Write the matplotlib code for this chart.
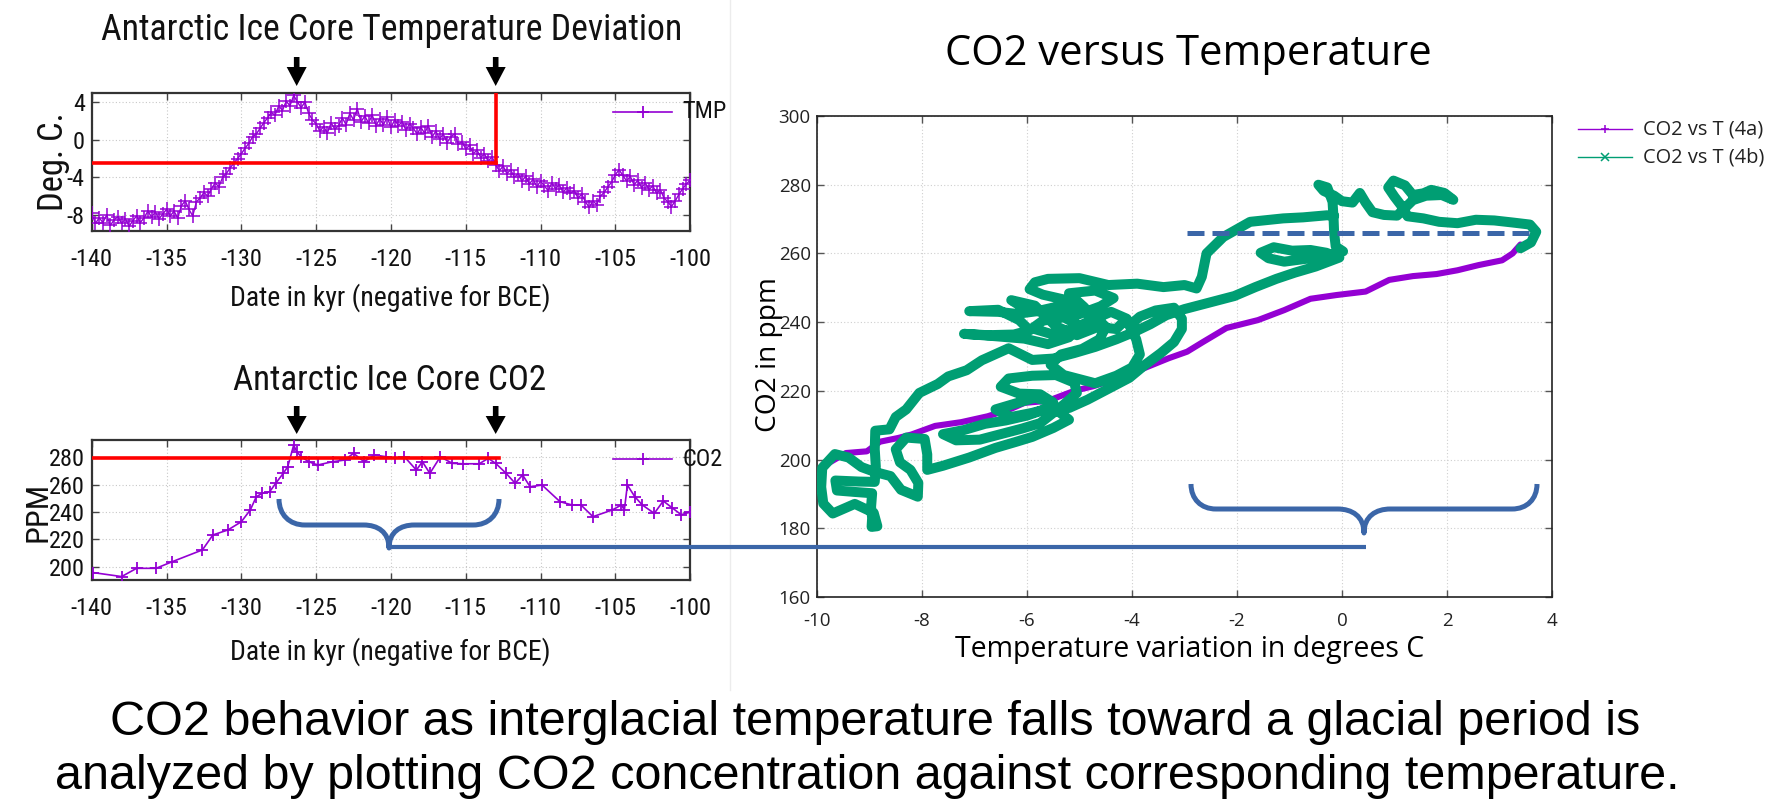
import numpy as np
import matplotlib
matplotlib.use("Agg")
import matplotlib.pyplot as plt
from matplotlib import font_manager as fm
from matplotlib.path import Path
from matplotlib.patches import PathPatch, Polygon

plt.rcParams['axes.unicode_minus'] = False

W, H = 1777, 806

# ---------------------------------------------------------------- data
# Antarctic ice-core temperature deviation (deg C), sampled every 0.25 kyr from -140 to -100
tmp_values = [
    -7.8, -8.9, -8.3, -8.8, -8.0, -9.1, -8.5, -8.2, -8.9, -8.4,
    -9.2, -8.6, -8.1, -8.8, -8.3, -7.6, -8.2, -7.7, -8.4, -7.9,
    -7.4, -8.1, -7.6, -8.3, -7.0, -6.5, -7.4, -8.1, -6.6, -6.2,
    -5.6, -6.0, -5.2, -4.6, -5.0, -4.0, -3.6, -3.0, -2.5, -2.0,
    -1.5, -0.9, -0.4, 0.3, 0.6, 1.2, 1.8, 2.3, 2.9, 2.6,
    3.6, 3.1, 4.1, 3.6, 4.7, 4.0, 3.4, 4.0, 2.8, 2.1,
    1.7, 0.9, 1.4, 0.7, 1.8, 1.1, 1.5, 2.3, 1.6, 2.8,
    2.1, 3.3, 1.9, 2.5, 1.8, 2.6, 1.5, 2.2, 1.6, 2.4,
    1.3, 2.1, 1.5, 1.9, 1.0, 1.7, 1.2, 0.6, 1.3, 0.7,
    1.5, 0.3, 0.9, 0.1, 0.6, -0.3, 0.3, 0.6, -0.5, -0.2,
    -1.0, -0.6, -1.5, -1.1, -1.9, -1.5, -2.3, -1.8, -2.7, -3.3,
    -2.8, -3.6, -3.2, -4.0, -3.6, -4.4, -3.9, -4.7, -4.2, -5.0,
    -4.4, -4.9, -5.4, -4.6, -5.2, -4.8, -5.6, -5.1, -5.7, -5.4,
    -6.2, -5.8, -6.6, -7.2, -6.5, -6.9, -6.0, -5.6, -5.0, -4.5,
    -3.7, -3.2, -3.8, -4.4, -3.9, -4.8, -4.3, -5.1, -4.6, -5.3,
    -4.9, -5.7, -5.3, -6.2, -6.6, -7.1, -6.5, -5.8, -5.2, -4.7,
    -4.3]
tmp_years = np.arange(len(tmp_values)) * 0.25 - 140.0

# Antarctic ice-core CO2 (ppm)
co2_years = [-139.9, -138.0, -137.0, -135.7, -134.6, -132.6, -131.9, -130.9, -130.0, -129.4,
             -129.0, -128.6, -128.1, -127.7, -127.2, -126.9, -126.5, -126.3, -126.0, -125.5,
             -124.9, -123.9, -123.1, -122.5, -121.8, -121.1, -120.3, -119.7, -119.1, -118.3,
             -117.9, -117.4, -116.7, -115.9, -115.2, -114.1, -113.5, -113.0, -112.3, -111.7,
             -111.2, -110.7, -109.9, -108.7, -107.9, -107.3, -106.5, -105.2, -104.6, -104.4,
             -104.2, -103.7, -103.2, -102.4, -101.8, -101.2, -100.6, -100.0]
co2_ppm = [195.9, 193.0, 199.0, 199.0, 203.9, 212.4, 223.3, 226.9, 232.9, 241.5,
           251.1, 253.6, 254.8, 260.9, 268.1, 272.9, 288.7, 283.9, 280.2, 276.6,
           274.2, 276.6, 277.8, 282.7, 276.6, 281.5, 280.2, 279.0, 280.2, 270.5,
           276.6, 268.1, 280.2, 275.4, 275.1, 275.1, 279.0, 275.4, 268.1, 260.9,
           266.9, 258.4, 259.6, 247.5, 245.1, 245.1, 236.6, 241.5, 245.1, 241.5,
           259.6, 251.1, 245.1, 239.0, 248.0, 243.0, 238.0, 240.0]

# CO2 vs T (4a)
t_4a = [-9.80, -9.45, -9.05, -8.80, -8.45, -8.20, -7.75, -7.25, -6.75, -6.30, -6.05,
        -5.60, -5.10, -4.75, -4.30, -3.80, -3.30, -2.95, -2.65, -2.20, -1.60, -1.10,
        -0.60, -0.10, 0.45, 0.90, 1.35, 1.80, 2.20, 2.60, 3.05, 3.25, 3.40]
co2_4a = [198.8, 201.9, 202.4, 205.2, 206.3, 207.3, 209.8, 210.9, 212.6, 214.8, 216.5,
          217.1, 220.0, 221.3, 223.5, 226.4, 229.5, 231.4, 234.2, 238.3, 240.6, 243.5,
          246.8, 247.9, 248.9, 252.3, 253.4, 254.0, 255.1, 256.6, 258.0, 260.0, 262.6]

# CO2 vs T (4b)
t_4b = [3.40, 3.60, 3.70, 3.58, 3.25, 2.90, 2.55, 2.20, 1.85, 1.55, 1.25, 1.15, 1.00, 0.88,
        0.98, 1.20, 1.35, 1.55, 1.70, 1.95, 2.12, 1.90, 1.60, 1.35, 1.15, 1.05, 0.80, 0.58,
        0.45, 0.34, 0.20, 0.00, -0.15, -0.35, -0.45, -0.28, -0.18, -0.16, -0.15, -0.12,
        0.02, -0.30, -0.70, -1.10, -1.40, -1.55, -1.30, -0.95, -0.60, -0.30, -0.05,
        -0.50, -0.90, -1.25, -1.65, -2.05, -2.50, -3.00, -3.35, -3.65, -3.95, -4.30, -4.70,
        -5.10, -5.50, -5.90, -6.35,
        -6.86, -7.15, -7.50, -7.70, -8.05, -8.30, -8.50, -8.62, -8.89, -8.90, -8.88, -8.90,
        -9.20, -9.65, -9.62, -9.30, -8.95, -8.97, -8.95, -8.96, -8.85, -8.92, -9.28, -9.70,
        -9.88, -9.92, -9.90, -9.66, -9.40, -9.15, -8.90, -8.60, -8.40, -8.08, -8.07, -8.22,
        -8.42, -8.50, -8.30, -7.95,
        -7.90, -7.90, -7.60, -7.10, -6.60, -6.20, -5.90, -5.50, -5.20, -5.40, -5.70, -6.00,
        -6.40, -6.80, -7.20, -7.60, -7.35, -6.90, -6.50, -6.10, -5.75, -5.30, -5.05, -5.10,
        -5.45, -5.90, -6.35, -6.50, -6.15, -5.75, -5.50,
        -5.85, -6.25, -6.60, -6.30, -5.90, -5.55,
        -5.20, -4.85, -4.45, -4.05, -3.75, -3.45, -3.20, -3.05, -3.05, -3.20, -3.55, -3.85,
        -4.05, -3.92, -3.85, -4.00, -4.30, -4.70,
        -5.30, -5.55, -5.35, -4.95, -4.62, -4.50, -4.70, -5.00, -5.40, -5.80, -6.20, -6.55,
        -7.10, -6.55, -6.15, -5.95, -6.25, -6.75, -7.20, -6.60, -6.05, -5.60, -5.20, -5.00,
        -5.30, -5.70, -5.90, -5.55, -5.15, -4.80, -4.40, -4.10, -4.30, -4.65,
        -5.05, -5.45, -5.85, -6.30, -6.05, -5.60, -5.10, -4.60, -4.35, -4.70, -5.20,
        -4.90, -5.30, -5.70, -5.95, -5.85, -5.60,
        -5.00, -4.45, -3.90, -3.40, -3.00, -2.77, -2.67, -2.58, -2.26, -1.75, -1.12, -0.74,
        -0.29, -0.15]
co2_4b = [261.5, 263.2, 266.3, 268.4, 269.0, 269.6, 269.8, 268.8, 269.2, 270.2, 270.8, 273.5,
          276.5, 279.2, 281.2, 279.8, 277.0, 277.5, 278.5, 277.6, 275.6, 277.0, 276.8, 275.5,
          272.5, 271.0, 271.2, 272.0, 274.8, 277.6, 274.8, 275.2, 276.8, 278.2, 280.0, 279.2,
          275.0, 270.0, 266.0, 262.0,
          260.6, 259.4, 258.4, 257.6, 258.6, 260.2, 261.8, 260.8, 261.0, 260.2, 258.8,
          256.2, 254.4, 252.6, 250.2, 247.6, 245.8, 243.8, 242.0, 239.4, 237.2, 235.0, 232.8,
          231.0, 229.4, 229.0, 232.4,
          228.9, 226.0, 224.2, 222.0, 219.4, 214.6, 212.4, 208.8, 208.4, 203.0, 198.0, 193.5,
          193.6, 193.9, 191.0, 190.6, 190.2, 186.2, 183.0, 180.4, 180.6, 184.5, 187.1, 184.3,
          187.2, 192.0, 197.6, 201.6, 200.6, 197.8, 196.4, 195.2, 191.2, 189.2, 193.2, 197.0,
          199.2, 203.0, 206.4, 206.0,
          201.5, 197.0, 198.2, 200.6, 203.4, 205.2, 206.6, 209.2, 211.6, 214.0, 214.4, 212.8,
          211.4, 210.4, 208.6, 207.4, 205.6, 205.8, 207.4, 209.0, 210.6, 216.0, 219.4, 222.4,
          224.6, 224.4, 223.6, 221.2, 219.2, 219.0, 216.6,
          218.0, 216.2, 214.6, 212.4, 213.6, 215.0,
          215.0, 217.4, 220.6, 223.8, 227.6, 231.0, 234.2, 238.0, 241.0, 244.2, 243.4, 241.6,
          239.0, 235.0, 230.6, 226.8, 224.4, 222.2,
          224.6, 227.6, 230.6, 232.2, 235.0, 238.6, 241.6, 243.6, 244.6, 243.2, 242.4, 243.0,
          243.2, 243.6, 240.6, 237.6, 236.4, 236.2, 236.6, 235.9, 235.2, 233.6, 235.6, 239.0,
          241.4, 240.4, 238.2, 236.6, 237.8, 240.4, 243.0, 241.0, 238.0, 238.6,
          236.2, 238.8, 244.8, 246.4, 244.0, 242.6, 241.8, 244.6, 247.0, 249.2, 248.4,
          244.2, 246.6, 248.0, 249.6, 251.6, 252.6,
          252.8, 250.8, 251.2, 250.2, 250.8, 249.8, 253.2, 260.0, 264.8, 269.2, 270.2, 270.5,
          271.1, 271.0]

# reference marks
tmp_ref_level = -2.5
co2_ref_level = 279.5
cutoff_year = -113.0
peak_year = -126.3
dash_level = 266.0
dash_span = [-2.95, 3.70]

left_xticks = list(range(-140, -99, 5))
tmp_yticks = [-8, -4, 0, 4]
co2_yticks = [200, 220, 240, 260, 280]
right_xticks = list(range(-10, 5, 2))
right_yticks = list(range(160, 301, 20))

title_tmp = "Antarctic Ice Core Temperature Deviation"
title_co2 = "Antarctic Ice Core CO2"
xlabel_left = "Date in kyr (negative for BCE)"
title_right = "CO2 versus Temperature"
xlabel_right = "Temperature variation in degrees C"
ylabel_right = "CO2 in ppm"
legend_right = ["CO2 vs T (4a)", "CO2 vs T (4b)"]
caption = ["CO2 behavior as interglacial temperature falls toward a glacial period is",
           "analyzed by plotting CO2 concentration against corresponding temperature."]

PURPLE = "#9400d3"
GREEN = "#009e73"
BLUE = "#3b66a8"
RED = "#ff0000"

# ---------------------------------------------------------------- fonts
avail = {f.name for f in fm.fontManager.ttflist}
cond_name = None
for c in ["Liberation Sans Narrow", "Noto Sans Condensed", "Roboto Condensed",
          "Open Sans Condensed", "DejaVu Sans Condensed"]:
    if c in avail:
        cond_name = c
        break
if cond_name:
    FP_COND = {"family": [cond_name, "DejaVu Sans"]}
else:
    FP_COND = {"family": ["Liberation Sans", "DejaVu Sans"]}
FP_SANS = {"family": ["Open Sans" if "Open Sans" in avail else "DejaVu Sans", "DejaVu Sans"]}
FP_CAP = {"family": ["Liberation Sans" if "Liberation Sans" in avail else "DejaVu Sans", "DejaVu Sans"]}

fig = plt.figure(figsize=(W / 100, H / 100), dpi=100)
fig.patch.set_facecolor("white")
renderer = fig.canvas.get_renderer()


def text_w(s, fp, size=20):
    t = fig.text(0, 0, s, fontsize=size, **fp)
    w = t.get_window_extent(renderer).width
    t.remove()
    return w


def fit(s, target, fp, size=20):
    return size * target / text_w(s, fp, size)


def rect(x0, y0, x1, y1):
    return [x0 / W, 1 - y1 / H, (x1 - x0) / W, (y1 - y0) / H]


# sizes matched to the widths measured on the reference
s_left_tick = fit("-140", 42, FP_COND)
s_left_lab = fit(xlabel_left, 320, FP_COND)
s_title_tmp = fit(title_tmp, 581, FP_COND)
s_title_co2 = fit(title_co2, 313, FP_COND)
s_deg = fit("Deg. C.", 99, FP_COND)
s_ppm = fit("PPM", 60, FP_COND)
s_leg_left = fit("TMP", 44, FP_COND)
s_right_tick = fit("300", 32, FP_SANS)
s_right_title = fit(title_right, 485, FP_SANS)
s_right_xlab = fit(xlabel_right, 469, FP_SANS)
s_right_ylab = fit(ylabel_right, 155, FP_SANS)
s_right_leg = fit(legend_right[0], 120, FP_SANS)
s_caption = fit(caption[1], 1621, FP_CAP)


def style_left(ax, ylim, yticks):
    ax.set_xlim(-140, -100)
    ax.set_ylim(*ylim)
    ax.set_xticks(left_xticks)
    ax.set_yticks(yticks)
    ax.grid(True, color="#c8c8c8", ls=(0, (1, 2)), lw=0.8)
    ax.set_axisbelow(True)
    ax.tick_params(direction="in", length=5, width=1.0, color="#444444",
                   top=True, right=True, labelsize=s_left_tick)
    ax.tick_params(axis="x", pad=12.5)
    ax.tick_params(axis="y", pad=5)
    for lab in ax.get_xticklabels() + ax.get_yticklabels():
        lab.set_fontfamily(FP_COND["family"])
        lab.set_color("#111111")
    for sp in ax.spines.values():
        sp.set_linewidth(1.6)
        sp.set_color("#333333")


# ---------------------------------------------------------------- top-left: temperature
axT = fig.add_axes(rect(91.7, 93, 690.2, 231))
axT.plot(tmp_years, tmp_values, color=PURPLE, lw=1.0, marker="+", ms=10, mew=1.1, zorder=3)
axT.plot([-140, cutoff_year], [tmp_ref_level, tmp_ref_level], color=RED, lw=2.6, zorder=4)
axT.plot([cutoff_year, cutoff_year], [tmp_ref_level, 5.5], color=RED, lw=2.6, zorder=4,
         clip_on=True)
style_left(axT, (-9.7, 4.96), tmp_yticks)

# ---------------------------------------------------------------- bottom-left: CO2
axC = fig.add_axes(rect(91.7, 440, 690.2, 580))
axC.plot(co2_years, co2_ppm, color=PURPLE, lw=1.2, marker="+", ms=9, mew=1.3, zorder=3)
axC.plot([-140, cutoff_year + 0.2], [co2_ref_level, co2_ref_level], color=RED, lw=2.6, zorder=4)
style_left(axC, (190.5, 292.4), co2_yticks)

# ---------------------------------------------------------------- right: CO2 vs T
axR = fig.add_axes(rect(817, 116, 1552, 597))
axR.plot(t_4a, co2_4a, color=PURPLE, lw=4.4, solid_joinstyle="round", solid_capstyle="round",
         zorder=3)
axR.plot(t_4b, co2_4b, color=GREEN, lw=7.2, solid_joinstyle="round", solid_capstyle="round",
         zorder=4)
axR.plot(dash_span, [dash_level, dash_level], color=BLUE, lw=3.6, dashes=(3.4, 1.6),
         solid_capstyle="butt", dash_capstyle="butt", zorder=5)
axR.set_xlim(-10, 4)
axR.set_ylim(160, 300)
axR.set_xticks(right_xticks)
axR.set_yticks(right_yticks)
axR.grid(True, color="#cfcfcf", ls=(0, (1, 2)), lw=0.8)
axR.set_axisbelow(True)
axR.tick_params(direction="in", length=5, width=1.0, color="#555555", top=True, right=True,
                labelsize=s_right_tick)
axR.tick_params(axis="x", pad=11)
axR.tick_params(axis="y", pad=4.5)
for lab in axR.get_xticklabels() + axR.get_yticklabels():
    lab.set_fontfamily(FP_SANS["family"])
    lab.set_color("#222222")
for sp in axR.spines.values():
    sp.set_linewidth(1.2)
    sp.set_color("#222222")

# ---------------------------------------------------------------- overlay (pixel space)
ov = fig.add_axes([0, 0, 1, 1], zorder=10)
ov.set_xlim(0, W)
ov.set_ylim(H, 0)
ov.axis("off")
ov.patch.set_alpha(0)


def px(ax, x, y):
    X, Y = ax.transData.transform((x, y))
    return X, H - Y


# faint divider between the screenshot panels
ov.plot([730, 730], [0, 690], color="#ececec", lw=1.0)

# black arrows above the left panels
for ax, (ytop, ybase, ytip) in [(axT, (57, 67, 86)), (axC, (406, 416, 434))]:
    for yr in (peak_year, cutoff_year):
        xc, _ = px(ax, yr, 0)
        ov.add_patch(Polygon([(xc - 2.8, ytop), (xc + 2.8, ytop), (xc + 2.8, ybase),
                              (xc + 10, ybase), (xc, ytip), (xc - 10, ybase),
                              (xc - 2.8, ybase)], closed=True, color="black", lw=0))

# left legends
for ax, label, ycen in [(axT, "TMP", 112), (axC, "CO2", 459)]:
    ov.plot([613, 672], [ycen, ycen], color=PURPLE, lw=1.2)
    ov.plot([643], [ycen], marker="+", ms=9, mew=1.3, color=PURPLE)
    ov.text(682, ycen, label, fontsize=s_leg_left, ha="left", va="center", color="#111111",
            **FP_COND)

# left titles / labels
ov.text(392, 40, title_tmp, fontsize=s_title_tmp, ha="center", va="baseline", color="#111111",
        **FP_COND)
ov.text(389.5, 390, title_co2, fontsize=s_title_co2, ha="center", va="baseline",
        color="#111111", **FP_COND)
ov.text(390, 298, xlabel_left, fontsize=s_left_lab, ha="center", va="center", color="#111111",
        **FP_COND)
ov.text(390, 652, xlabel_left, fontsize=s_left_lab, ha="center", va="center", color="#111111",
        **FP_COND)
ov.text(53, 162, "Deg. C.", fontsize=s_deg, rotation=90, ha="center", va="center",
        color="#111111", **FP_COND)
ov.text(38, 512, "PPM", fontsize=s_ppm, rotation=90, ha="center", va="center",
        color="#111111", **FP_COND)

# right titles / labels
ov.text(1188, 65, title_right, fontsize=s_right_title, ha="center", va="baseline",
        color="black", **FP_SANS)
ov.text(1190, 657, xlabel_right, fontsize=s_right_xlab, ha="center", va="baseline",
        color="black", **FP_SANS)
ov.text(769, 355, ylabel_right, fontsize=s_right_ylab, rotation=90, ha="center", va="center",
        color="black", **FP_SANS)

# right legend
for (label, color, mk, ycen) in [(legend_right[0], PURPLE, "+", 129),
                                 (legend_right[1], GREEN, "x", 157)]:
    ov.plot([1578, 1632], [ycen, ycen], color=color, lw=1.0)
    ov.plot([1605], [ycen], marker=mk, ms=6, mew=1.1, color=color)
    ov.text(1643, ycen, label, fontsize=s_right_leg, ha="left", va="center", color="#222222",
            **FP_SANS)


# blue braces and connector
def brace(x0, x1, y_end, y_mid, y_tip):
    xc = (x0 + x1) / 2
    r = y_mid - y_end
    r2 = y_tip - y_mid
    verts = [(x0, y_end), (x0, y_end + 0.6 * r), (x0 + 0.4 * r, y_mid), (x0 + r, y_mid),
             (xc - 1.1 * r2, y_mid),
             (xc - 0.5 * r2, y_mid), (xc, y_mid + 0.3 * r2), (xc, y_tip),
             (xc, y_mid + 0.3 * r2), (xc + 0.5 * r2, y_mid), (xc + 1.1 * r2, y_mid),
             (x1 - r, y_mid),
             (x1 - 0.4 * r, y_mid), (x1, y_end + 0.6 * r), (x1, y_end)]
    codes = [Path.MOVETO, Path.CURVE4, Path.CURVE4, Path.CURVE4, Path.LINETO,
             Path.CURVE4, Path.CURVE4, Path.CURVE4, Path.CURVE4, Path.CURVE4, Path.CURVE4,
             Path.LINETO, Path.CURVE4, Path.CURVE4, Path.CURVE4]
    ov.add_patch(PathPatch(Path(verts, codes), fill=False, edgecolor=BLUE, lw=3.6,
                           capstyle="butt", joinstyle="round"))


brace(279, 499, 499, 525, 548)
brace(1191, 1537, 484, 509, 533)
ov.plot([389, 1366], [547, 547], color=BLUE, lw=3.0, solid_capstyle="butt")

# caption
ov.text(875, 735, caption[0], fontsize=s_caption, ha="center", va="baseline", color="black",
        **FP_CAP)
ov.text(867, 789, caption[1], fontsize=s_caption, ha="center", va="baseline", color="black",
        **FP_CAP)

fig.savefig("out.png", dpi=100, facecolor="white")
